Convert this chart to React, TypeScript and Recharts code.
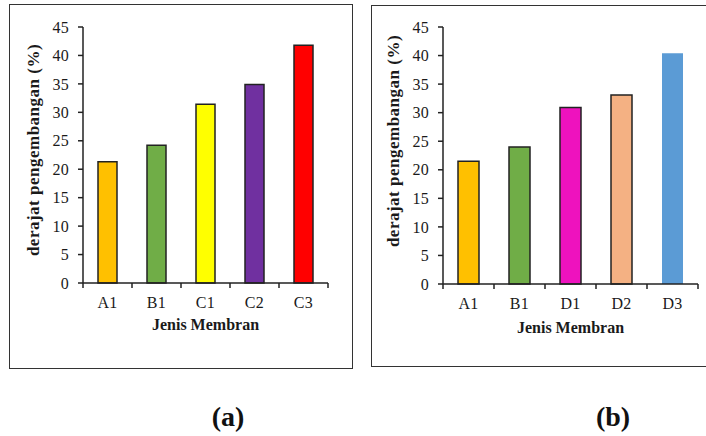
import React from "react";
import { BarChart, Bar, XAxis, YAxis, Cell } from "recharts";

const categoriesA = ["A1", "B1", "C1", "C2", "C3"];
const valuesA = [21.3, 24.2, 31.4, 34.9, 41.8];
const colorsA = ["#FFC000", "#70AD47", "#FFFF00", "#7030A0", "#FF0000"];

const categoriesB = ["A1", "B1", "D1", "D2", "D3"];
const valuesB = [21.5, 24.0, 30.9, 33.1, 40.4];
const colorsB = ["#FFC000", "#70AD47", "#EE12BE", "#F4B183", "#5B9BD5"];
const strokesB = ["#222", "#222", "#222", "#222", "none"];

const yTicks = [0, 5, 10, 15, 20, 25, 30, 35, 40, 45];
const xTitle = "Jenis Membran";
const yTitle = "derajat pengembangan (%)";
const panelLabels = ["(a)", "(b)"];

const FONT = "'Liberation Serif', 'Times New Roman', serif";
const TEXT = "#1a1a1a";

const makeXTick = (bw: number, lastIndex: number) => (props: any) => {
  const { x, y, payload, index } = props;
  return (
    <g>
      <line x1={x - bw / 2} y1={y} x2={x - bw / 2} y2={y + 5} stroke="#222" strokeWidth={1.5} />
      {index === lastIndex && (
        <line x1={x + bw / 2} y1={y} x2={x + bw / 2} y2={y + 5} stroke="#222" strokeWidth={1.5} />
      )}
      <text x={x} y={y + 25} textAnchor="middle" fontFamily={FONT} fontSize={16} fill={TEXT} letterSpacing={0.3}>
        {payload.value}
      </text>
    </g>
  );
};

const makeXTitle = (dy: number) => (props: any) => {
  const vb = props.viewBox;
  return (
    <text x={vb.x + vb.width / 2} y={vb.y + dy} textAnchor="middle" fontFamily={FONT} fontSize={16} fontWeight="bold" fill={TEXT}>
      {xTitle}
    </text>
  );
};

const makeYTitle = (cx: number, cy: number) => (props: any) => {
  return (
    <text
      x={cx}
      y={cy}
      transform={`rotate(-90, ${cx}, ${cy})`}
      textAnchor="middle"
      dominantBaseline="central"
      fontFamily={FONT}
      fontSize={17}
      fontWeight="bold"
      letterSpacing={0.5}
      fill={TEXT}
    >
      {yTitle}
    </text>
  );
};

type PanelProps = {
  cats: string[];
  vals: number[];
  colors: string[];
  strokes?: string[];
  width: number;
  height: number;
  margin: { top: number; right: number; left: number; bottom: number };
  yAxisWidth: number;
  xAxisHeight: number;
  barSize: number;
  bw: number;
  xTitleDy: number;
  yTitlePos: [number, number];
};

function Panel(p: PanelProps) {
  const data = p.cats.map((c, i) => ({ name: c, value: p.vals[i] }));
  return (
    <BarChart width={p.width} height={p.height} data={data} margin={p.margin} barCategoryGap={0}>
      <XAxis
        dataKey="name"
        height={p.xAxisHeight}
        axisLine={{ stroke: "#222", strokeWidth: 1.5 }}
        tickLine={false}
        tickSize={0}
        tickMargin={0}
        interval={0}
        tick={makeXTick(p.bw, p.cats.length - 1)}
        label={{ content: makeXTitle(p.xTitleDy) } as any}
      />
      <YAxis
        width={p.yAxisWidth}
        domain={[0, 45]}
        ticks={yTicks}
        interval={0}
        axisLine={{ stroke: "#222", strokeWidth: 1.5 }}
        tickLine={{ stroke: "#222", strokeWidth: 1.5 }}
        tickSize={5}
        tickMargin={9}
        tick={{ fontFamily: FONT, fontSize: 16, fill: TEXT, letterSpacing: 0.3 }}
        label={{ content: makeYTitle(p.yTitlePos[0], p.yTitlePos[1]) } as any}
      />
      <Bar dataKey="value" barSize={p.barSize} isAnimationActive={false}>
        {data.map((d, i) => (
          <Cell
            key={d.name}
            fill={p.colors[i]}
            stroke={p.strokes ? p.strokes[i] : "#222"}
            strokeWidth={1.5}
          />
        ))}
      </Bar>
    </BarChart>
  );
}

export default function App() {
  return (
    <div
      style={{
        position: "absolute",
        left: 0,
        top: 0,
        width: 706,
        height: 436,
        background: "#fff",
        overflow: "hidden",
      }}
    >
      <div style={{ position: "absolute", left: 9, top: 4, width: 342, height: 363, border: "1.5px solid #333" }} />
      <div style={{ position: "absolute", left: 371, top: 5, width: 345, height: 360, border: "1.5px solid #333" }} />
      <div style={{ position: "absolute", left: 10, top: 5 }}>
        <Panel
          cats={categoriesA}
          vals={valuesA}
          colors={colorsA}
          width={343}
          height={364}
          margin={{ top: 22, right: 25, left: 0, bottom: 0 }}
          yAxisWidth={73}
          xAxisHeight={86}
          barSize={19}
          bw={49}
          xTitleDy={47}
          yTitlePos={[23, 145]}
        />
      </div>
      <div style={{ position: "absolute", left: 372, top: 6 }}>
        <Panel
          cats={categoriesB}
          vals={valuesB}
          colors={colorsB}
          strokes={strokesB}
          width={343}
          height={361}
          margin={{ top: 21, right: 17, left: 0, bottom: 0 }}
          yAxisWidth={71}
          xAxisHeight={83}
          barSize={21}
          bw={51}
          xTitleDy={49}
          yTitlePos={[21, 135]}
        />
      </div>
      <div
        style={{
          position: "absolute",
          left: 178,
          top: 401,
          width: 100,
          textAlign: "center",
          fontFamily: FONT,
          fontWeight: "bold",
          fontSize: 28,
          color: "#111",
        }}
      >
        {panelLabels[0]}
      </div>
      <div
        style={{
          position: "absolute",
          left: 563,
          top: 401,
          width: 100,
          textAlign: "center",
          fontFamily: FONT,
          fontWeight: "bold",
          fontSize: 28,
          color: "#111",
        }}
      >
        {panelLabels[1]}
      </div>
    </div>
  );
}
